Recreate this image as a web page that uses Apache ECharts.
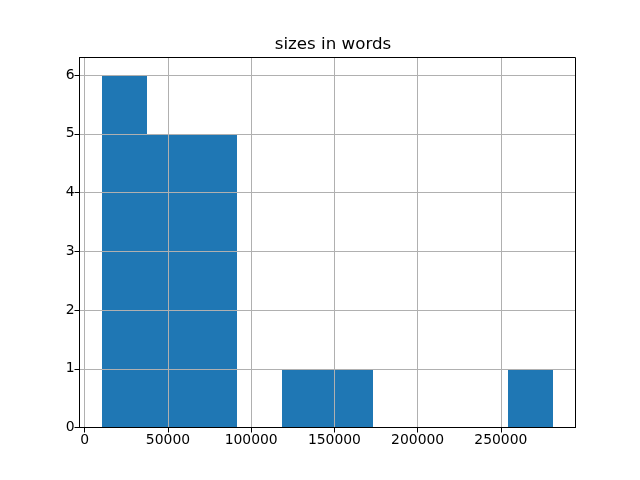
<!DOCTYPE html>
<html><head><meta charset="utf-8">
<script src="https://cdn.jsdelivr.net/npm/echarts@6/dist/echarts.min.js"></script>
<style>html,body{margin:0;padding:0;background:#fff}#c{width:640px;height:480px}</style>
</head><body><div id="c"></div>
<script>
const titleText = 'sizes in words';
const binEdges = [10400, 37500, 64600, 91700, 118800, 145900, 173000, 200100, 227200, 254200, 281300];
const counts = [6, 5, 5, 0, 1, 1, 0, 0, 0, 1];
const xTicks = [0, 50000, 100000, 150000, 200000, 250000];
const yTicks = [0, 1, 2, 3, 4, 5, 6];

const span = binEdges[binEdges.length - 1] - binEdges[0];
const xMin = binEdges[0] - 0.05 * span;
const xMax = binEdges[binEdges.length - 1] + 0.05 * span;
const yMax = Math.max(...counts) * 1.05;

const data = counts.map((c, i) => [binEdges[i], binEdges[i + 1], c]);
const font = 'DejaVu Sans';
const frameLine = {show: true, onZero: false, lineStyle: {color: '#000', width: 1}};
const gridLine = {show: true, lineStyle: {color: '#b0b0b0', width: 1}};

const chart = echarts.init(document.getElementById('c'), null, {renderer: 'canvas'});
chart.setOption({
  animation: false,
  backgroundColor: '#fff',
  title: {text: titleText, left: 328, textAlign: 'center', top: 31,
    textStyle: {fontFamily: font, fontSize: 16.7, fontWeight: 'normal', color: '#000'}},
  grid: {left: 79.5, right: 64.5, top: 57.5, bottom: 52.5, show: true, z: 30,
    borderColor: '#000', borderWidth: 1, backgroundColor: 'transparent'},
  xAxis: {type: 'value', min: xMin, max: xMax, z: 10,
    axisLine: frameLine,
    axisTick: {show: true, length: 5, lineStyle: {color: '#000', width: 1}, customValues: xTicks},
    axisLabel: {color: '#000', fontFamily: font, fontSize: 13.9, margin: 6, customValues: xTicks,
      formatter: v => String(v)},
    splitLine: gridLine},
  yAxis: {type: 'value', min: 0, max: yMax, z: 10,
    axisLine: frameLine,
    axisTick: {show: true, length: 5, lineStyle: {color: '#000', width: 1}, customValues: yTicks},
    axisLabel: {color: '#000', fontFamily: font, fontSize: 13.9, margin: 5, customValues: yTicks},
    splitLine: gridLine},
  series: [{
    type: 'custom', z: 2,
    data: data,
    encode: {x: [0, 1], y: 2},
    renderItem: function (params, api) {
      const p0 = api.coord([api.value(0), 0]);
      const p1 = api.coord([api.value(1), api.value(2)]);
      const x0 = Math.round(p0[0]), x1 = Math.round(p1[0]);
      const y0 = Math.round(p0[1]), y1 = Math.round(p1[1]);
      return {type: 'rect', shape: {x: x0, y: y1, width: x1 - x0, height: y0 - y1},
        style: {fill: '#1f77b4'}};
    }
  }]
});
</script></body></html>
